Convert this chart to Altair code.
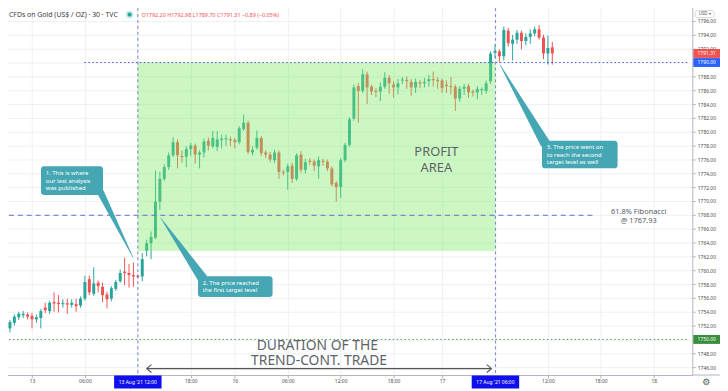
import altair as alt
import pandas as pd

FONT = "Noto Sans"
W, H = 696, 377
GREEN, RED, TEAL = "#26a69a", "#ef5350", "#45a7b4"

# ---- candle data (30-min XAU/USD, 13-17 Aug 2021) ----
open_ = [1751.6, 1752.4, 1753.2, 1753.5, 1753.6, 1753.4, 1752.9, 1753.1, 1754.6, 1754.1,
         1755.4, 1755.3, 1755.1, 1755.2, 1755.0, 1755.1, 1754.9, 1755.9, 1758.7, 1756.6,
         1758.2, 1757.6, 1756.5, 1755.9, 1757.3, 1758.4, 1759.8, 1759.6, 1759.3, 1759.2,
         1759.1, 1762.8, 1763.9, 1764.7, 1769.9, 1773.2, 1774.9, 1776.6, 1778.5, 1776.5,
         1776.4, 1777.5, 1778.0, 1776.7, 1777.0, 1778.7, 1777.9, 1777.8, 1778.8, 1778.9,
         1778.9, 1778.8, 1778.5, 1780.4, 1781.3, 1777.0, 1777.7, 1779.1, 1777.0, 1776.7,
         1775.9, 1777.0, 1774.2, 1774.2, 1775.1, 1773.2, 1776.7, 1774.5, 1775.8, 1775.7,
         1775.0, 1775.8, 1775.7, 1774.7, 1772.6, 1772.0, 1775.9, 1778.1, 1781.9, 1786.6,
         1785.9, 1788.3, 1786.5, 1785.9, 1785.8, 1786.5, 1787.8, 1786.8, 1786.4, 1787.4,
         1787.5, 1787.2, 1786.4, 1787.1, 1787.0, 1787.3, 1787.6, 1787.5, 1787.4, 1786.8,
         1786.6, 1786.5, 1784.8, 1786.2, 1786.6, 1785.8, 1785.7, 1786.0, 1785.9, 1787.3,
         1791.4, 1791.6, 1790.9, 1794.6, 1792.7, 1793.3, 1794.3, 1793.1, 1793.7, 1794.2,
         1794.8, 1793.6, 1791.3, 1792.2]
high_ = [1752.8, 1753.6, 1754.0, 1754.1, 1753.9, 1753.8, 1753.6, 1754.4, 1755.3, 1755.6,
         1756.8, 1756.4, 1755.8, 1755.9, 1755.8, 1755.9, 1756.2, 1759.2, 1759.2, 1760.4,
         1758.5, 1758.2, 1756.9, 1757.7, 1758.6, 1760.1, 1761.8, 1760.9, 1761.1, 1759.4,
         1762.5, 1764.4, 1765.6, 1774.4, 1774.2, 1775.3, 1777.0, 1779.2, 1778.9, 1777.3,
         1777.9, 1778.4, 1778.3, 1777.3, 1779.0, 1779.2, 1780.1, 1780.1, 1779.6, 1779.6,
         1779.3, 1779.1, 1780.8, 1782.5, 1781.6, 1777.9, 1780.2, 1779.4, 1777.3, 1777.1,
         1777.4, 1777.3, 1774.5, 1775.4, 1775.5, 1776.9, 1777.2, 1776.1, 1776.2, 1776.0,
         1776.4, 1776.1, 1776.0, 1775.0, 1772.9, 1776.2, 1778.4, 1782.1, 1786.8, 1787.0,
         1789.0, 1788.7, 1786.8, 1786.3, 1787.1, 1788.6, 1788.2, 1787.3, 1787.6, 1787.9,
         1788.0, 1787.6, 1787.7, 1787.5, 1787.8, 1788.2, 1788.7, 1787.9, 1787.7, 1787.4,
         1787.9, 1786.8, 1786.6, 1786.9, 1786.9, 1786.1, 1786.6, 1786.4, 1787.4, 1791.6,
         1792.6, 1791.9, 1795.2, 1795.0, 1794.0, 1794.7, 1794.6, 1794.2, 1794.8, 1795.2,
         1795.4, 1794.0, 1793.9, 1792.98]
low_ = [1751.0, 1752.0, 1752.8, 1753.1, 1752.9, 1751.6, 1752.4, 1751.6, 1753.8, 1753.7,
        1754.0, 1753.9, 1754.6, 1753.7, 1754.6, 1754.0, 1754.6, 1755.6, 1756.4, 1756.3,
        1756.8, 1755.4, 1754.5, 1755.5, 1757.0, 1758.2, 1757.8, 1757.5, 1757.6, 1758.8,
        1758.4, 1762.0, 1761.6, 1764.5, 1768.7, 1772.9, 1774.5, 1776.3, 1774.7, 1775.5,
        1774.9, 1776.5, 1775.4, 1774.7, 1776.3, 1777.3, 1777.6, 1777.2, 1777.6, 1778.0,
        1777.9, 1777.6, 1778.2, 1780.1, 1776.8, 1776.6, 1777.4, 1776.5, 1776.2, 1775.6,
        1775.5, 1773.2, 1773.7, 1771.6, 1772.6, 1772.9, 1774.1, 1774.0, 1775.2, 1774.3,
        1773.2, 1775.1, 1774.3, 1772.1, 1769.9, 1770.4, 1775.6, 1777.8, 1781.6, 1781.3,
        1785.6, 1784.0, 1785.3, 1785.0, 1784.4, 1786.2, 1785.5, 1784.9, 1785.4, 1786.9,
        1786.2, 1785.2, 1785.6, 1786.3, 1786.4, 1786.5, 1786.5, 1786.2, 1785.6, 1785.6,
        1785.4, 1783.0, 1784.3, 1785.3, 1784.9, 1785.1, 1784.7, 1785.3, 1785.5, 1786.9,
        1790.6, 1790.0, 1790.3, 1792.3, 1790.3, 1792.7, 1791.9, 1792.5, 1792.7, 1793.8,
        1793.3, 1790.5, 1789.7, 1789.70]
close_ = [1752.5, 1753.3, 1753.7, 1753.7, 1753.3, 1752.9, 1753.2, 1754.1, 1754.2, 1755.3,
          1755.2, 1755.1, 1755.2, 1755.1, 1755.3, 1754.8, 1755.9, 1758.3, 1756.8, 1758.1,
          1757.7, 1756.4, 1755.8, 1757.4, 1758.3, 1759.6, 1759.6, 1759.3, 1759.1, 1759.1,
          1761.6, 1763.9, 1764.8, 1769.9, 1773.2, 1774.9, 1776.6, 1778.5, 1776.6, 1776.4,
          1777.5, 1778.0, 1776.7, 1777.0, 1778.6, 1778.0, 1779.1, 1778.9, 1779.0, 1779.0,
          1778.8, 1778.5, 1780.5, 1781.3, 1777.1, 1777.4, 1779.1, 1776.9, 1776.7, 1776.0,
          1777.0, 1774.2, 1774.1, 1775.0, 1773.2, 1776.6, 1774.5, 1775.6, 1775.7, 1775.1,
          1775.9, 1775.7, 1774.7, 1772.4, 1772.0, 1775.9, 1778.1, 1781.8, 1786.4, 1785.9,
          1788.3, 1786.4, 1785.8, 1785.8, 1786.5, 1787.8, 1787.0, 1786.4, 1787.0, 1787.5,
          1787.3, 1786.4, 1787.2, 1787.0, 1787.2, 1787.6, 1787.5, 1787.3, 1786.3, 1786.6,
          1786.5, 1784.8, 1786.2, 1786.5, 1785.7, 1785.7, 1786.2, 1786.1, 1787.0, 1791.3,
          1791.6, 1790.9, 1794.7, 1792.8, 1793.3, 1794.3, 1793.1, 1793.7, 1794.2, 1794.8,
          1793.6, 1791.3, 1792.1, 1791.31]
idx = list(range(1, len(open_) + 1))

# ---- axes ----
X_DOMAIN = [0.78, 154.63]
Y_DOMAIN = [1744.86, 1798.71]
x_ticks = [6, 18, 30, 42, 52, 64, 76, 88, 99, 111.1, 123, 135, 147]
x_labels = ["13", "06:00", "", "18:00", "16", "06:00", "12:00", "18:00", "17",
            "", "12:00", "18:00", "18"]
y_ticks = list(range(1746, 1797, 2))
y_hidden = [1790, 1750]

# ---- annotations (anchored in candle index / price units) ----
profit_x = [30.0, 111.1]
profit_y = [1762.76, 1790.0]
level_target2 = 1790.0
level_fib = 1767.93
level_target1 = 1750.0
fib_end = 133.3
target2_start = 17.9
entry_idx = 30.0
exit_idx = 111.1

fib_lab_x = [143.6, 143.6]
fib_lab_y = [1768.35, 1767.05]
fib_lab_t = ["61.8% Fibonacci", "@ 1767.93"]

ptr_group = [1, 1, 2, 2, 3, 3]
ptr_order = [0, 1, 0, 1, 0, 1]
ptr_x = [28.93, 21.6, 35.22, 44.6, 112.14, 122.3]
ptr_y = [1761.81, 1771.2, 1767.53, 1758.9, 1789.67, 1778.4]
ptr_w = [0.5, 7, 0.5, 10, 0.5, 10]

box_x = [8.03, 43.64, 121.66]
box_x2 = [22.10, 60.56, 138.80]
box_y = [1775.0, 1759.14, 1778.71]
box_y2 = [1770.86, 1756.14, 1774.71]

note_x = [9.13, 9.13, 9.13, 44.74, 44.74, 122.76, 122.76, 122.76]
note_y = [1774.03, 1772.93, 1771.83, 1758.2, 1757.09, 1777.81, 1776.71, 1775.61]
note_t = ["1. This is where", "our last analysis", "was published",
          "2. The price reached", "the first target level",
          "3. The price went on", "to reach the second", "target level as well"]

big_x = [97.7, 97.7, 70.7, 71.1]
big_y = [1776.43, 1774.21, 1748.5, 1746.29]
big_t = ["PROFIT", "AREA", "DURATION OF THE", "TREND-CONT. TRADE"]
big_s = [13, 13, 14, 14]

arrow_x = [31.99, 31.99, 31.99, 110.23, 110.23]
arrow_x2 = [110.23, 33.09, 33.09, 109.13, 109.13]
arrow_y = [1745.79, 1745.79, 1745.79, 1745.79, 1745.79]
arrow_y2 = [1745.79, 1746.36, 1745.22, 1746.36, 1745.22]

price_tags = [1791.31, 1790.0, 1750.0]
price_tag_text = ["1791.31", "1790.00", "1750.00"]
price_tag_col = [RED, "#2962ff", "#388e3c"]

date_idx = [30.0, 111.1]
date_text = ["13 Aug '21   12:00", "17 Aug '21   06:00"]

title_text = "CFDs on Gold (US$ / OZ) · 30 · TVC"
ohlc_text = "O1792.20  H1792.98  L1789.70  C1791.31  −0.89 (−0.05%)"

# ---- build ----
df = pd.DataFrame({"i": idx, "o": open_, "h": high_, "l": low_, "c": close_})
df["dir"] = ["up" if c >= o else "down" for o, c in zip(open_, close_)]
df["doji"] = [abs(c - o) < 0.2 for o, c in zip(open_, close_)]

xs = alt.Scale(domain=X_DOMAIN, nice=False, zero=False)
ys = alt.Scale(domain=Y_DOMAIN, nice=False, zero=False)
col = alt.Color("dir:N", scale=alt.Scale(domain=["up", "down"], range=[GREEN, RED]), legend=None)

x_label_expr = " : ".join(f"datum.value == {v} ? '{t}'" for v, t in zip(x_ticks, x_labels)) + " : ''"
y_label_expr = (" || ".join(f"datum.value == {v}" for v in y_hidden)
                + " ? '' : format(datum.value, '.2f')")

xaxis = alt.Axis(values=x_ticks, labelExpr=x_label_expr, grid=True, gridColor="#eef0f5",
                 domainColor="#b2b5be", tickColor="#b2b5be", tickSize=3, labelFontSize=5,
                 labelColor="#4a4a4a", labelFont=FONT, labelPadding=1, labelOverlap=False,
                 labelFlush=False, title=None)
yaxis = alt.Axis(orient="right", values=y_ticks, labelExpr=y_label_expr, grid=True,
                 gridColor="#eef0f5", domainColor="#b2b5be", tickColor="#b2b5be", tickSize=3,
                 labelFontSize=5, labelColor="#4a4a4a", labelFont=FONT, labelPadding=2,
                 labelOverlap=False, title=None)


def X(f):
    return alt.X(f, scale=xs, axis=xaxis, title=None)


def Y(f):
    return alt.Y(f, scale=ys, axis=yaxis, title=None)


wicks = alt.Chart(df).mark_rule(strokeWidth=1).encode(x=X("i:Q"), y=Y("l:Q"), y2="h:Q", color=col)
bodies = alt.Chart(df).mark_bar(size=3).encode(x=X("i:Q"), y=Y("o:Q"), y2="c:Q", color=col)
dojis = alt.Chart(df).transform_filter("datum.doji").mark_tick(
    orient="horizontal", size=3, thickness=1).encode(x=X("i:Q"), y=Y("c:Q"), color=col)

rect = alt.Chart(pd.DataFrame({"x": [profit_x[0]], "x2": [profit_x[1]],
                               "y": [profit_y[0]], "y2": [profit_y[1]]})).mark_rect(
    color="#7feb66", opacity=0.4).encode(x=X("x:Q"), x2="x2:Q", y=Y("y:Q"), y2="y2:Q")

line_t2 = alt.Chart(pd.DataFrame({"x": [target2_start], "x2": [X_DOMAIN[1]], "y": [level_target2]})).mark_rule(
    color="#3b5bdb", strokeWidth=1, strokeDash=[1.5, 2.5]).encode(x=X("x:Q"), x2="x2:Q", y=Y("y:Q"))
line_fib = alt.Chart(pd.DataFrame({"x": [X_DOMAIN[0]], "x2": [fib_end], "y": [level_fib]})).mark_rule(
    color="#6570c8", strokeWidth=1, strokeDash=[5, 4]).encode(x=X("x:Q"), x2="x2:Q", y=Y("y:Q"))
line_t1 = alt.Chart(pd.DataFrame({"x": [X_DOMAIN[0]], "x2": [X_DOMAIN[1]], "y": [level_target1]})).mark_rule(
    color="#4f9a52", strokeWidth=1, strokeDash=[1.5, 2.5]).encode(x=X("x:Q"), x2="x2:Q", y=Y("y:Q"))
vlines = alt.Chart(pd.DataFrame({"x": [entry_idx, exit_idx]})).mark_rule(
    color="#7b83c9", strokeWidth=1, strokeDash=[3, 3]).encode(x=X("x:Q"))

fib_label = alt.Chart(pd.DataFrame({"x": fib_lab_x, "y": fib_lab_y, "t": fib_lab_t})).mark_text(
    fontSize=7.5, color="#555b66", font=FONT, align="center", baseline="middle").encode(
    x=X("x:Q"), y=Y("y:Q"), text="t:N")

ptr = pd.DataFrame({"g": ptr_group, "ord": ptr_order, "x": ptr_x, "y": ptr_y, "w": ptr_w})
pointers = alt.Chart(ptr).mark_trail(color=TEAL).encode(
    x=X("x:Q"), y=Y("y:Q"), size=alt.Size("w:Q", scale=None, legend=None), detail="g:N", order="ord:Q")
boxes = alt.Chart(pd.DataFrame({"x": box_x, "x2": box_x2, "y": box_y, "y2": box_y2})).mark_rect(
    color=TEAL, cornerRadius=3).encode(x=X("x:Q"), x2="x2:Q", y=Y("y:Q"), y2="y2:Q")
notes = alt.Chart(pd.DataFrame({"x": note_x, "y": note_y, "t": note_t})).mark_text(
    fontSize=6, color="white", font=FONT, align="left", baseline="middle").encode(
    x=X("x:Q"), y=Y("y:Q"), text="t:N")

big = alt.Chart(pd.DataFrame({"x": big_x, "y": big_y, "t": big_t, "s": big_s})).mark_text(
    color="#5d6369", font=FONT, align="center", baseline="alphabetic").encode(
    x=X("x:Q"), y=Y("y:Q"), text="t:N", size=alt.Size("s:Q", scale=None, legend=None))

arrow = alt.Chart(pd.DataFrame({"x": arrow_x, "x2": arrow_x2, "y": arrow_y, "y2": arrow_y2})).mark_rule(
    color="#555", strokeWidth=1.2).encode(x=X("x:Q"), x2="x2:Q", y=Y("y:Q"), y2="y2:Q")

tags_df = pd.DataFrame({"p": price_tags, "t": price_tag_text, "c": price_tag_col})
tags = alt.Chart(tags_df).mark_tick(orient="horizontal", size=27, thickness=9, opacity=1).encode(
    x=alt.value(W + 14.5), y=Y("p:Q"), color=alt.Color("c:N", scale=None))
tags_txt = alt.Chart(tags_df).mark_text(fontSize=5, color="white", font=FONT, baseline="middle").encode(
    x=alt.value(W + 14.5), y=Y("p:Q"), text="t:N")

dates_df = pd.DataFrame({"i": date_idx, "t": date_text})
dates = alt.Chart(dates_df).mark_tick(orient="horizontal", size=48, thickness=13, color="#1010ee",
                                      opacity=1).encode(x=X("i:Q"), y=alt.value(H + 7))
dates_txt = alt.Chart(dates_df).mark_text(fontSize=5, color="white", font=FONT, baseline="middle").encode(
    x=X("i:Q"), y=alt.value(H + 7), text="t:N")

one = pd.DataFrame({"t": [title_text]})
title = alt.Chart(one).mark_text(fontSize=7, color="#3c3c3c", font=FONT, align="left",
                                 baseline="middle").encode(x=alt.value(5), y=alt.value(12.5), text="t:N")
ohlc = alt.Chart(pd.DataFrame({"t": [ohlc_text]})).mark_text(
    fontSize=5.5, color=RED, font=FONT, align="left", baseline="middle").encode(
    x=alt.value(139), y=alt.value(12.5), text="t:N")
dot_halo = alt.Chart(one).mark_point(filled=True, size=60, color=GREEN, opacity=0.25).encode(
    x=alt.value(127), y=alt.value(12.5))
dot = alt.Chart(one).mark_point(filled=True, size=18, color=GREEN, opacity=1).encode(
    x=alt.value(127), y=alt.value(12.5))
usd_box = alt.Chart(one).mark_rect(fill="white", stroke="#c8cad0", strokeWidth=0.7, cornerRadius=2).encode(
    x=alt.value(W + 3), x2=alt.value(W + 22), y=alt.value(8.5), y2=alt.value(15.5))
usd_txt = alt.Chart(pd.DataFrame({"t": ["USD ▾"]})).mark_text(
    fontSize=4.5, color="#555", font=FONT, baseline="middle").encode(
    x=alt.value(W + 12.5), y=alt.value(12), text="t:N")
gear = alt.Chart(pd.DataFrame({"t": ["⚙"]})).mark_text(
    fontSize=9, color="#555", font="DejaVu Sans", baseline="middle").encode(
    x=alt.value(W + 14), y=alt.value(H + 7), text="t:N")
xline = alt.Chart(one).mark_rule(color="#b2b5be", strokeWidth=1).encode(
    x=alt.value(W), x2=alt.value(W + 28), y=alt.value(H))

chart = alt.layer(
    wicks, bodies, dojis, rect, line_t2, line_fib, line_t1, vlines, fib_label,
    pointers, boxes, notes, big, arrow, tags, tags_txt, dates, dates_txt,
    title, ohlc, dot_halo, dot, usd_box, usd_txt, gear, xline
).properties(
    width=W, height=H,
    padding={"left": -4, "top": -8, "right": 28, "bottom": 14},
    autosize=alt.AutoSizeParams(type="none"),
).configure_view(stroke=None)

chart.save("out.html", embed_options={"renderer": "svg", "actions": False})
